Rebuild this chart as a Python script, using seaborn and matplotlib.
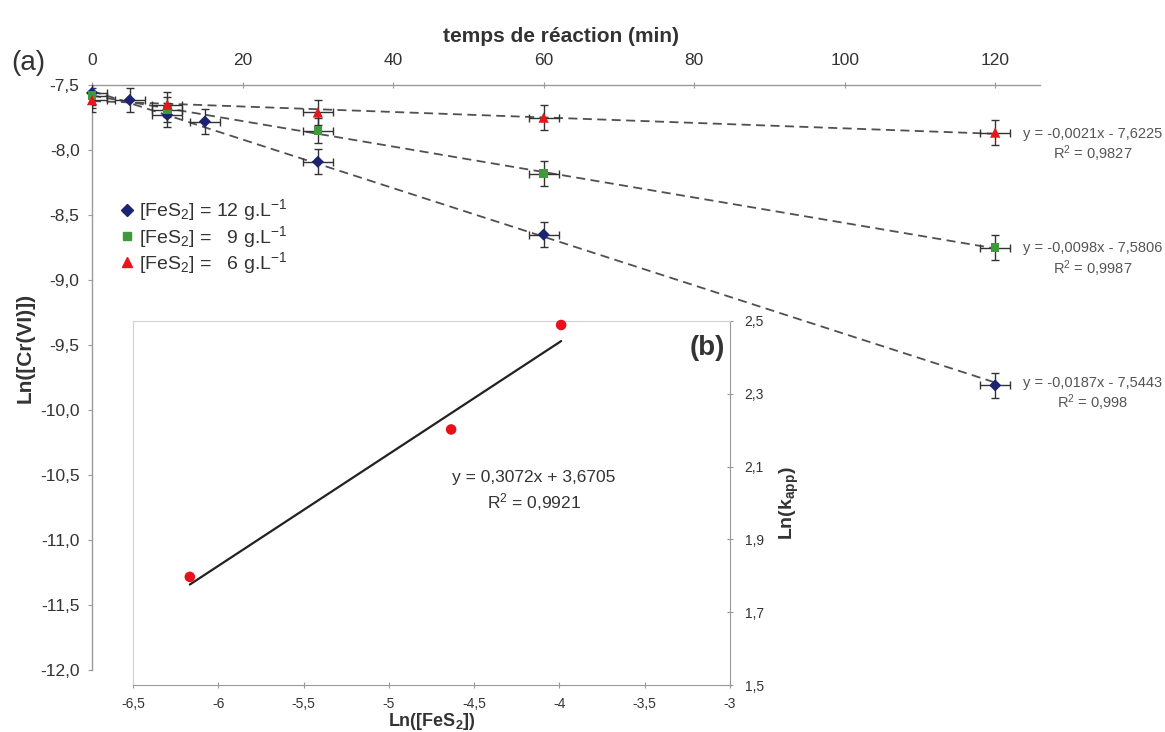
import numpy as np
import matplotlib.pyplot as plt
import matplotlib.ticker as mticker
from matplotlib.lines import Line2D
import seaborn as sns

# (a) Ln[Cr(VI)] vs reaction time, three pyrite loadings
time_12 = [0, 5, 10, 15, 30, 60, 120]
lncr_12 = [-7.56, -7.615, -7.73, -7.78, -8.09, -8.65, -9.81]
time_9 = [0, 10, 30, 60, 120]
lncr_9 = [-7.58, -7.69, -7.85, -8.18, -8.75]
time_6 = [0, 10, 30, 60, 120]
lncr_6 = [-7.615, -7.65, -7.71, -7.75, -7.865]
t_err = 2.0
lncr_err = 0.095

labels = ['[FeS$_2$] = 12 g.L$^{-1}$', '[FeS$_2$] =   9 g.L$^{-1}$', '[FeS$_2$] =   6 g.L$^{-1}$']
slopes = [-0.0187, -0.0098, -0.0021]
intercepts = [-7.5443, -7.5806, -7.6225]
eq_texts = ['y = -0,0187x - 7,5443', 'y = -0,0098x - 7,5806', 'y = -0,0021x - 7,6225']
r2_texts = ['R$^2$ = 0,998', 'R$^2$ = 0,9987', 'R$^2$ = 0,9827']

# (b) Ln(k_app) vs Ln([FeS2])
ln_fes2 = [-6.167, -4.635, -3.99]
ln_kapp = [1.797, 2.202, 2.489]
slope_b, intercept_b = 0.3072, 3.6705

colors = ['#1c2472', '#3f9a3a', '#e8151b']
markers = ['D', 's', '^']
msizes = [38, 38, 55]

sns.set_style('white')
plt.rcParams['font.family'] = ['Liberation Sans', 'DejaVu Sans']
plt.rcParams['mathtext.fontset'] = 'custom'
plt.rcParams['mathtext.rm'] = 'Liberation Sans'
plt.rcParams['mathtext.it'] = 'Liberation Sans:italic'
plt.rcParams['mathtext.bf'] = 'Liberation Sans:bold'
txt = '#333333'
axc = '#9a9a9a'

fig = plt.figure(figsize=(11.65, 7.32), dpi=100)
ax = fig.add_axes([0.079, 0.0847, 0.814, 0.799])

series = [(time_12, lncr_12), (time_9, lncr_9), (time_6, lncr_6)]
for i, (t, y) in enumerate(series):
    sns.lineplot(x=[0, 120], y=[intercepts[i], intercepts[i] + 120 * slopes[i]], ax=ax,
                 color='#505050', lw=1.3, linestyle=(0, (5, 3)), zorder=2)
for i, (t, y) in enumerate(series):
    ax.errorbar(t, y, xerr=t_err, yerr=lncr_err, fmt='none', ecolor='#333333',
                elinewidth=1, capsize=3, capthick=1, zorder=3)
    sns.scatterplot(x=t, y=y, ax=ax, color=colors[i], marker=markers[i], s=msizes[i],
                    edgecolor='none', zorder=4, clip_on=False)

for i in range(3):
    yv = intercepts[i] + 120 * slopes[i]
    ax.text(132.9, yv, eq_texts[i], ha='center', va='center', fontsize=10.5, color='#555555')
    ax.text(132.9, yv - 0.155, r2_texts[i], ha='center', va='center', fontsize=10.5, color='#555555')

ax.set_xlim(0, 126)
ax.set_ylim(-12, -7.5)
ax.xaxis.tick_top()
ax.set_xticks(np.arange(0, 121, 20))
ax.set_yticks(np.arange(-12, -7.4, 0.5))
ax.yaxis.set_major_formatter(mticker.FuncFormatter(lambda v, p: f'{v:.1f}'.replace('.', ',')))
ax.tick_params(axis='x', top=True, bottom=False, direction='inout', length=5, width=0.8,
               color=axc, labelsize=12.5, labelcolor=txt, pad=10)
ax.tick_params(axis='y', left=True, direction='out', length=3, width=0.8,
               color=axc, labelsize=12.5, labelcolor=txt, pad=6)
for s in ['right', 'bottom']:
    ax.spines[s].set_visible(False)
for s in ['left', 'top']:
    ax.spines[s].set_color(axc)
    ax.spines[s].set_linewidth(1)

handles = [Line2D([], [], ls='none', marker=markers[i], color=colors[i],
                  markersize=6 if i < 2 else 7) for i in range(3)]
ax.legend(handles, labels, loc='upper left', bbox_to_anchor=(0.088, 1 - 180 / 732),
          bbox_transform=fig.transFigure, frameon=False, fontsize=14,
          handlelength=0.7, handletextpad=0.3, labelspacing=0.02, labelcolor=txt)

fig.text(561 / 1165, 1 - 36 / 732, 'temps de réaction (min)', ha='center', va='center',
         fontsize=15, fontweight='bold', color=txt)
fig.text(25 / 1165, 1 - 348 / 732, 'Ln([Cr(VI)])', ha='center', va='center', rotation=90,
         fontsize=15, fontweight='bold', color=txt)
fig.text(28 / 1165, 1 - 63 / 732, '(a)', ha='center', va='center', fontsize=20, color=txt)

# inset (b)
axin = fig.add_axes([0.1142, 0.0642, 0.5124, 0.4973])
axin.set_facecolor('white')
sns.lineplot(x=[min(ln_fes2), max(ln_fes2)],
             y=[slope_b * min(ln_fes2) + intercept_b, slope_b * max(ln_fes2) + intercept_b],
             ax=axin, color='#222222', lw=1.6)
sns.scatterplot(x=ln_fes2, y=ln_kapp, ax=axin, color='#e8101a', s=58, edgecolor='none',
                zorder=3, clip_on=False)
axin.set_xlim(-6.5, -3)
axin.set_ylim(1.5, 2.5)
axin.set_xticks(np.arange(-6.5, -2.9, 0.5))
axin.set_yticks(np.arange(1.5, 2.51, 0.2))
axin.xaxis.set_major_formatter(mticker.FuncFormatter(lambda v, p: f'{v:g}'.replace('.', ',')))
axin.yaxis.set_major_formatter(mticker.FuncFormatter(lambda v, p: f'{v:.1f}'.replace('.', ',')))
axin.yaxis.tick_right()
axin.yaxis.set_label_position('right')
axin.tick_params(axis='x', bottom=True, direction='inout', length=5, width=0.8, color=axc,
                 labelsize=10, labelcolor=txt, pad=6)
axin.tick_params(axis='y', right=True, left=False, direction='inout', length=5, width=0.8,
                 color=axc, labelsize=10, labelcolor=txt, pad=8)
for s in ['left', 'top']:
    axin.spines[s].set_color('#d0d0d0')
for s in ['right', 'bottom']:
    axin.spines[s].set_color(axc)
axin.set_xlabel('Ln([FeS$_\\mathbf{2}$])', fontsize=13, fontweight='bold', color=txt, labelpad=0)
axin.set_ylabel('Ln(k$_\\mathbf{app}$)', fontsize=14, fontweight='bold', color=txt, labelpad=10)
axin.text(-4.149, 2.071, 'y = 0,3072x + 3,6705', ha='center', va='center', fontsize=12.5, color=txt)
axin.text(-4.149, 2.003, 'R$^2$ = 0,9921', ha='center', va='center', fontsize=12.5, color=txt)
axin.text(-3.135, 2.426, '(b)', ha='center', va='center', fontsize=20, fontweight='bold', color=txt)

fig.savefig('out.png', dpi=100)
